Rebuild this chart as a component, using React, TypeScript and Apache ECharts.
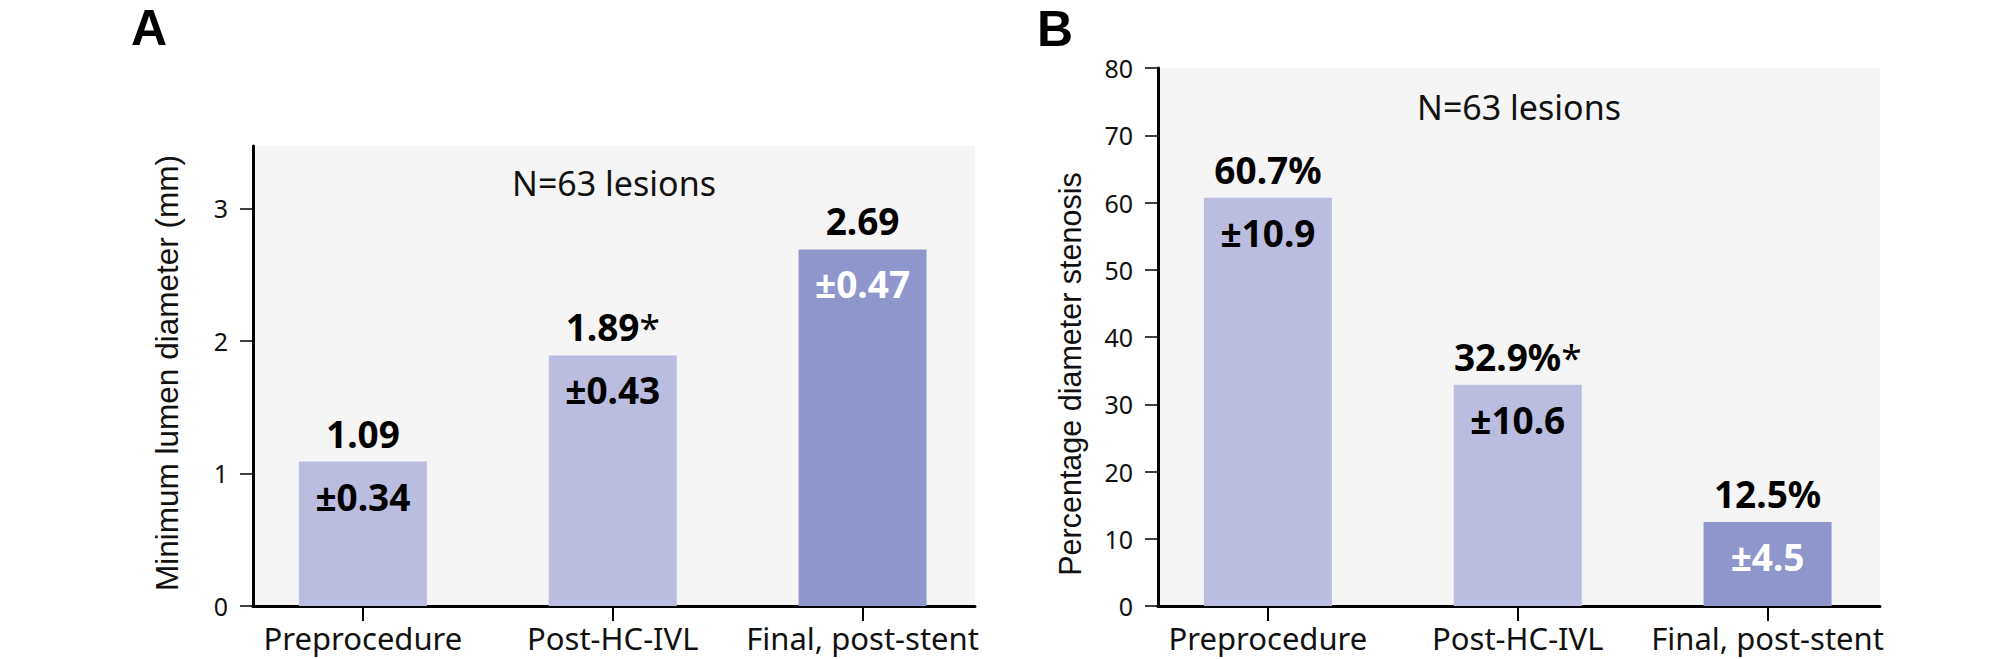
import React, { useEffect, useRef } from "react";
import * as echarts from "echarts";

const categories = ["Preprocedure", "Post-HC-IVL", "Final, post-stent"];
const categoryPos = [0, 1, 2];
const mldMean = [1.09, 1.89, 2.69];
const mldSD = [0.34, 0.43, 0.47];
const mldMark = ["", "*", ""];
const mldTicks = [0, 1, 2, 3];
const dsMean = [60.7, 32.9, 12.5];
const dsSD = [10.9, 10.6, 4.5];
const dsMark = ["", "*", ""];
const dsTicks = [0, 10, 20, 30, 40, 50, 60, 70, 80];
const panelLetters = ["A", "B"];
const nLabel = "N=63 lesions";
const yNames = ["Minimum lumen diameter (mm)", "Percentage diameter stenosis"];

const LIGHT = "#BABDE0";
const DARK = "#8E96CB";
const NARROW = "'Noto Sans', sans-serif";
const SANS = "'Liberation Sans', Arial, sans-serif";

function xAxisFor(gridIndex: number) {
  return {
    type: "value",
    gridIndex,
    min: -0.44,
    max: 2.45,
    splitLine: { show: false },
    axisLine: { show: true, onZero: false, lineStyle: { color: "#000", width: 3 } },
    axisTick: { show: true, customValues: categoryPos, length: 15, lineStyle: { color: "#000", width: 2 } },
    axisLabel: {
      customValues: categoryPos,
      margin: 16,
      fontFamily: NARROW,
      fontSize: 31,
      color: "#111",
      formatter: (v: number) => (Math.abs(v - Math.round(v)) < 1e-6 ? categories[Math.round(v)] ?? "" : ""),
    },
  };
}

function yAxisFor(gridIndex: number, max: number, interval: number, ticks: number[]) {
  return {
    type: "value",
    gridIndex,
    min: 0,
    max,
    interval,
    splitLine: { show: false },
    axisLine: { show: true, onZero: false, lineStyle: { color: "#000", width: 3 } },
    axisTick: { show: true, customValues: ticks, length: 13, lineStyle: { color: "#000", width: 1.5 } },
    axisLabel: { customValues: ticks, margin: 25, fontFamily: NARROW, fontSize: 25, color: "#111" },
  };
}

function barsFor(idx: number, means: number[], sds: number[], fmtTop: (v: number, i: number) => string, fmtIn: (v: number) => string) {
  const main = {
    type: "bar",
    xAxisIndex: idx,
    yAxisIndex: idx,
    barWidth: 128,
    barGap: "-100%",
    data: means.map((v, i) => ({ value: [categoryPos[i], v], itemStyle: { color: i === 2 ? DARK : LIGHT } })),
    label: {
      show: true,
      position: "top",
      distance: 10,
      fontFamily: NARROW,
      fontWeight: "bold",
      fontSize: 37,
      color: "#000",
      formatter: (p: any) => fmtTop(means[p.dataIndex], p.dataIndex),
      rich: {
        v: { fontFamily: NARROW, fontWeight: "bold", fontSize: 37, color: "#000" },
        s: { fontFamily: NARROW, fontWeight: "normal", fontSize: 37, color: "#000" },
      },
    },
    emphasis: { disabled: true },
  };
  const overlay = {
    type: "bar",
    xAxisIndex: idx,
    yAxisIndex: idx,
    barWidth: 128,
    barGap: "-100%",
    silent: true,
    itemStyle: { color: "rgba(0,0,0,0)" },
    data: means.map((v, i) => ({ value: [categoryPos[i], v], label: { color: i === 2 ? "#fff" : "#000" } })),
    label: {
      show: true,
      position: "insideTop",
      distance: 16,
      fontFamily: NARROW,
      fontWeight: "bold",
      fontSize: 37,
      formatter: (p: any) => fmtIn(sds[p.dataIndex]),
    },
    emphasis: { disabled: true },
  };
  return [main, overlay];
}

export default function App() {
  const ref = useRef<HTMLDivElement>(null);
  useEffect(() => {
    document.body.style.margin = "0";
    if (!ref.current) return;
    const chart = echarts.init(ref.current, null, { renderer: "svg" });
    const topFmt = (core: string, mark: string) => (mark ? `{v|${core}}{s|${mark}}` : `{v|${core}}`);
    const option: any = {
      animation: false,
      grid: [
        { left: 253, right: 1034, top: 146, bottom: 53, show: true, backgroundColor: "#F5F5F5", borderWidth: 0 },
        { left: 1158, right: 129, top: 68, bottom: 53, show: true, backgroundColor: "#F5F5F5", borderWidth: 0 },
      ],
      xAxis: [xAxisFor(0), xAxisFor(1)],
      yAxis: [yAxisFor(0, 3.47, 1, mldTicks), yAxisFor(1, 80, 10, dsTicks)],
      series: [
        ...barsFor(0, mldMean, mldSD, (v, i) => topFmt(v.toFixed(2), mldMark[i]), (s) => "±" + s.toFixed(2)),
        ...barsFor(1, dsMean, dsSD, (v, i) => topFmt(v.toFixed(1) + "%", dsMark[i]), (s) => "±" + s.toFixed(1)),
      ],
      graphic: [
        { type: "text", x: 131, y: 3, style: { text: panelLetters[0], font: `bold 50px ${SANS}`, fill: "#000", textAlign: "left", textVerticalAlign: "top" } },
        { type: "text", x: 1037, y: 4, style: { text: panelLetters[1], font: `bold 50px ${SANS}`, fill: "#000", textAlign: "left", textVerticalAlign: "top" } },
        { type: "text", x: 614, y: 183, style: { text: nLabel, font: `34px ${NARROW}`, fill: "#111", textAlign: "center", textVerticalAlign: "middle" } },
        { type: "text", x: 1519, y: 107, style: { text: nLabel, font: `34px ${NARROW}`, fill: "#111", textAlign: "center", textVerticalAlign: "middle" } },
        { type: "text", x: 167, y: 373, rotation: Math.PI / 2, style: { text: yNames[0], font: `31.5px ${SANS}`, fill: "#111", textAlign: "center", textVerticalAlign: "middle" } },
        { type: "text", x: 1070, y: 374, rotation: Math.PI / 2, style: { text: yNames[1], font: `30.5px ${SANS}`, fill: "#111", textAlign: "center", textVerticalAlign: "middle" } },
      ],
    };
    chart.setOption(option);
    return () => chart.dispose();
  }, []);
  return <div ref={ref} style={{ width: 2009, height: 659 }} />;
}
